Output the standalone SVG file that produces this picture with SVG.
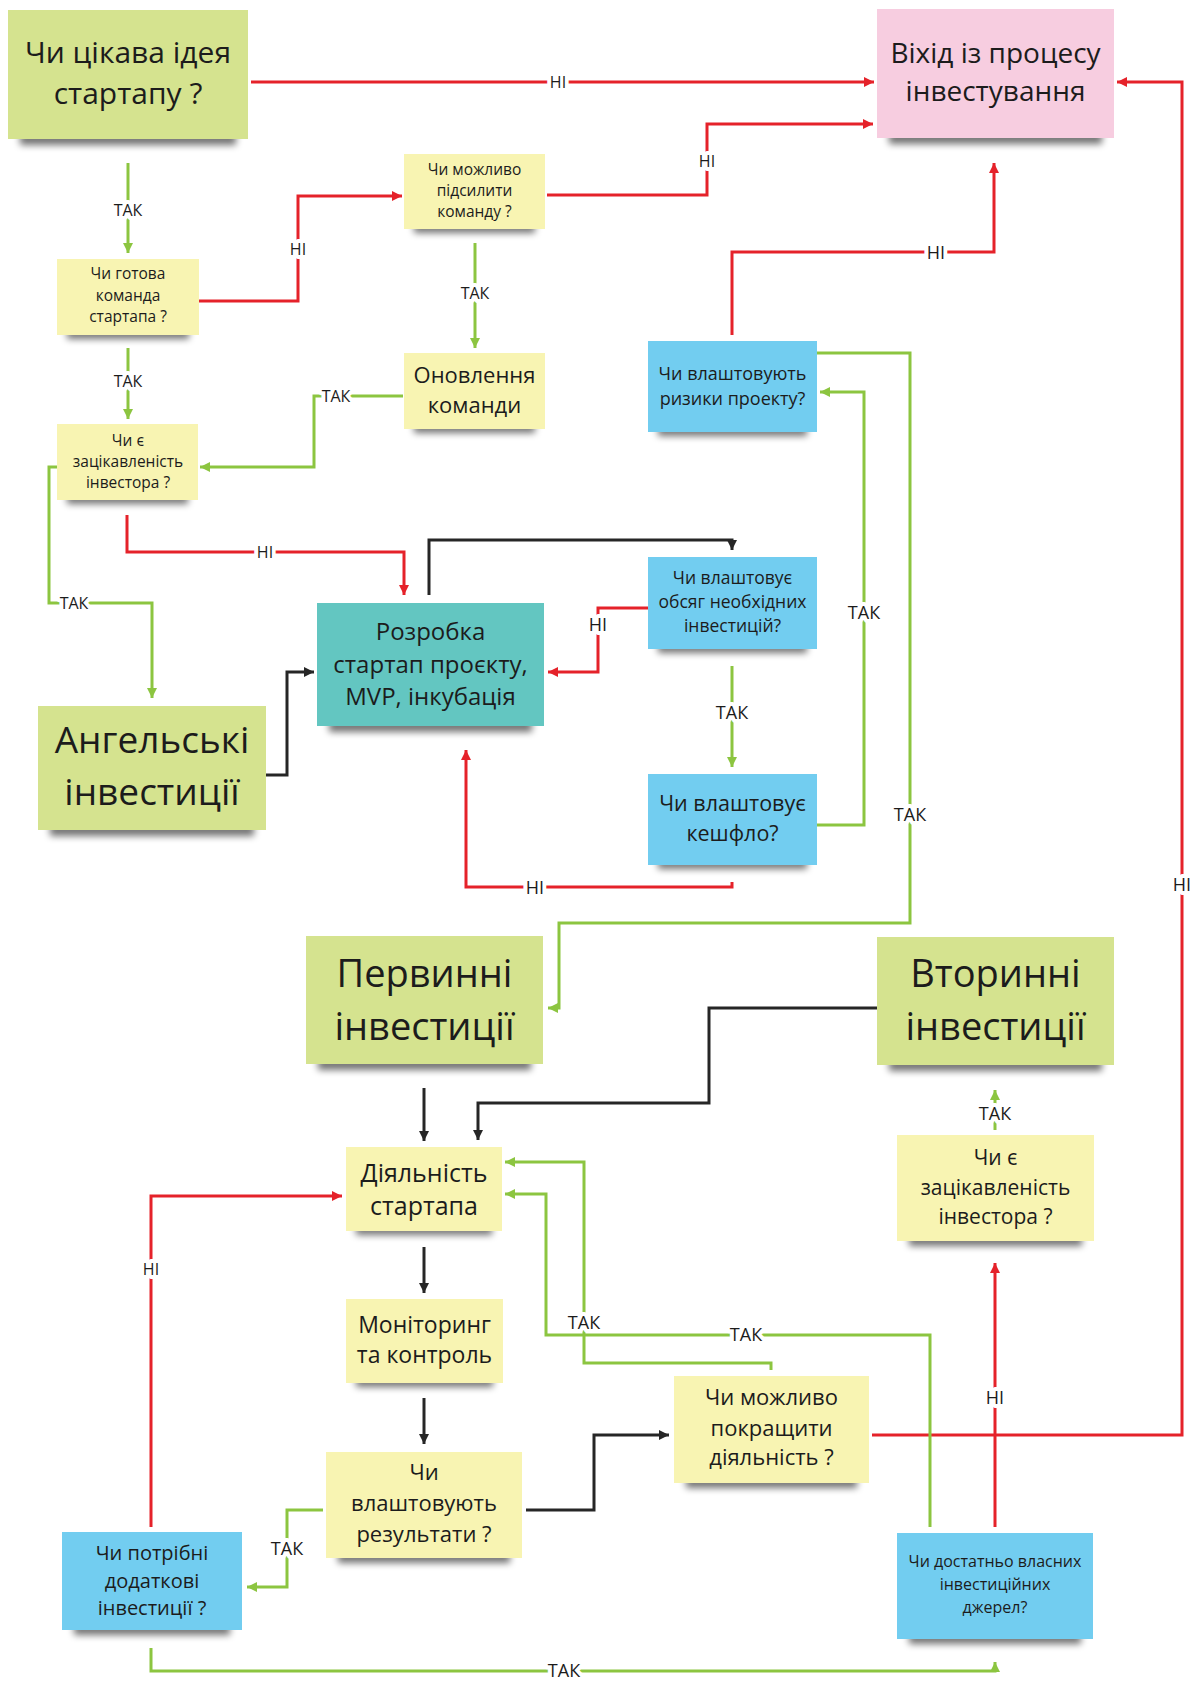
<svg xmlns="http://www.w3.org/2000/svg" width="1192" height="1682" viewBox="0 0 1192 1682">
<style>
text{font-family:"Open Sans","Noto Sans","DejaVu Sans",sans-serif;fill:#1c1c1c;text-anchor:middle}
.g{fill:#d5e38f}.y{fill:#f8f4b2}.p{fill:#f7cde0}.b{fill:#72cdf0}.t{fill:#63c6c1}
.sh{fill:#000;opacity:.55;filter:url(#blur)}
.c{fill:none;stroke-width:3;stroke-linejoin:miter}
.r{stroke:#e5222a;marker-end:url(#ar)}.gr{stroke:#8cc540;marker-end:url(#ag)}.k{stroke:#262626;marker-end:url(#ak)}
.lbl{font-size:16px;stroke:#fff;stroke-width:8px;paint-order:stroke;stroke-linejoin:round}
.l2{font-size:18px}
</style>
<defs>
<filter id="blur" x="-20%" y="-100%" width="140%" height="300%"><feGaussianBlur stdDeviation="3.5"/></filter>
<marker id="ar" markerUnits="userSpaceOnUse" markerWidth="12" markerHeight="12" refX="10" refY="5" orient="auto"><path d="M0,0L10,5L0,10z" fill="#e5222a"/></marker>
<marker id="ag" markerUnits="userSpaceOnUse" markerWidth="12" markerHeight="12" refX="10" refY="5" orient="auto"><path d="M0,0L10,5L0,10z" fill="#8cc540"/></marker>
<marker id="ak" markerUnits="userSpaceOnUse" markerWidth="12" markerHeight="12" refX="10" refY="5" orient="auto"><path d="M0,0L10,5L0,10z" fill="#262626"/></marker>
</defs>
<rect width="1192" height="1682" fill="#fff"/>

<g id="connectors">
<path class="c r" d="M251,82H874"/>
<path class="c r" d="M547,195H707V124H873"/>
<path class="c gr" d="M128,163V253"/>
<path class="c r" d="M199,301H298V196H402"/>
<path class="c gr" d="M128,348V419"/>
<path class="c gr" d="M475,243V348"/>
<path class="c gr" d="M403,396H314V467H200"/>
<path class="c r" d="M127,515V552H404V595"/>
<path class="c gr" d="M57,467H49V603H152V698"/>
<path class="c k" d="M266,775H287V672H314"/>
<path class="c k" d="M429,595V540H732V550"/>
<path class="c r" d="M648,608H598V672H548"/>
<path class="c gr" d="M732,666V767"/>
<path class="c r" d="M732,882V887H466V750"/>
<path class="c gr" d="M817,825H864V392H820"/>
<path class="c gr" d="M817,353H910V923H559V1008H548"/>
<path class="c r" d="M732,335V252H994V163"/>
<path class="c r" d="M872,1435H1182V82H1117"/>
<path class="c r" d="M995,1527V1263"/>
<path class="c gr" d="M995,1130V1090"/>
<path class="c k" d="M877,1008H709V1103H478V1140"/>
<path class="c k" d="M424,1088V1141"/>
<path class="c k" d="M424,1247V1293"/>
<path class="c k" d="M424,1398V1444"/>
<path class="c k" d="M526,1510H594V1435H669"/>
<path class="c gr" d="M323,1510H287V1587H247"/>
<path class="c r" d="M151,1527V1196H342"/>
<path class="c gr" d="M151,1648V1671H995V1662"/>
<path class="c gr" d="M930,1527V1335H546V1194H505"/>
<path class="c gr" d="M771,1370V1363H584V1162H505"/>
<text class="lbl" x="558" y="82" dy="0.35em">НІ</text>
<text class="lbl" x="707" y="161" dy="0.35em">НІ</text>
<text class="lbl" x="128" y="210" dy="0.35em">ТАК</text>
<text class="lbl" x="298" y="249" dy="0.35em">НІ</text>
<text class="lbl" x="128" y="381" dy="0.35em">ТАК</text>
<text class="lbl" x="475" y="293" dy="0.35em">ТАК</text>
<text class="lbl" x="336" y="396" dy="0.35em">ТАК</text>
<text class="lbl" x="265" y="552" dy="0.35em">НІ</text>
<text class="lbl" x="74" y="603" dy="0.35em">ТАК</text>
<text class="lbl l2" x="598" y="625" dy="0.35em">НІ</text>
<text class="lbl l2" x="732" y="713" dy="0.35em">ТАК</text>
<text class="lbl l2" x="535" y="888" dy="0.35em">НІ</text>
<text class="lbl l2" x="864" y="613" dy="0.35em">ТАК</text>
<text class="lbl l2" x="910" y="815" dy="0.35em">ТАК</text>
<text class="lbl l2" x="936" y="253" dy="0.35em">НІ</text>
<text class="lbl l2" x="1182" y="885" dy="0.35em">НІ</text>
<text class="lbl l2" x="995" y="1398" dy="0.35em">НІ</text>
<text class="lbl l2" x="995" y="1114" dy="0.35em">ТАК</text>
<text class="lbl" x="151" y="1269" dy="0.35em">НІ</text>
<text class="lbl l2" x="287" y="1549" dy="0.35em">ТАК</text>
<text class="lbl l2" x="564" y="1671" dy="0.35em">ТАК</text>
<text class="lbl l2" x="746" y="1335" dy="0.35em">ТАК</text>
<text class="lbl l2" x="584" y="1323" dy="0.35em">ТАК</text>
</g>

<g id="n-idea">
<rect class="sh" x="20" y="133" width="216" height="12"/>
<rect class="g" x="8" y="10" width="240" height="129"/>
<text font-size="30" x="128" y="63">Чи цікава ідея</text>
<text font-size="30" x="128" y="104">стартапу ?</text>
</g>
<g id="n-exit">
<rect class="sh" x="889" y="132" width="213" height="12"/>
<rect class="p" x="877" y="9" width="237" height="129"/>
<text font-size="28" x="995.5" y="63">Віхід із процесу</text>
<text font-size="28" x="995.5" y="101">інвестування</text>
</g>
<g id="n-strengthen">
<rect class="sh" x="414" y="223" width="121" height="10"/>
<rect class="y" x="404" y="154" width="141" height="75"/>
<text font-size="15.5" x="474.5" y="175">Чи можливо</text>
<text font-size="15.5" x="474.5" y="196">підсилити</text>
<text font-size="15.5" x="474.5" y="217">команду ?</text>
</g>
<g id="n-team">
<rect class="sh" x="67" y="329" width="122" height="10"/>
<rect class="y" x="57" y="259" width="142" height="76"/>
<text font-size="15.5" x="128" y="279">Чи готова</text>
<text font-size="15.5" x="128" y="301">команда</text>
<text font-size="15.5" x="128" y="322">стартапа ?</text>
</g>
<g id="n-update">
<rect class="sh" x="414" y="423" width="121" height="10"/>
<rect class="y" x="404" y="353" width="141" height="76"/>
<text font-size="22" x="474.5" y="383">Оновлення</text>
<text font-size="22" x="474.5" y="413">команди</text>
</g>
<g id="n-interest1">
<rect class="sh" x="67" y="494" width="121" height="10"/>
<rect class="y" x="57" y="424" width="141" height="76"/>
<text font-size="15.5" x="128" y="446">Чи є</text>
<text font-size="15.5" x="128" y="467">зацікавленість</text>
<text font-size="15.5" x="128" y="488">інвестора ?</text>
</g>
<g id="n-angel">
<rect class="sh" x="50" y="824" width="204" height="12"/>
<rect class="g" x="38" y="706" width="228" height="124"/>
<text font-size="37" x="152" y="753">Ангельські</text>
<text font-size="37" x="152" y="805">інвестиції</text>
</g>
<g id="n-dev">
<rect class="sh" x="329" y="720" width="203" height="12"/>
<rect class="t" x="317" y="603" width="227" height="123"/>
<text font-size="24" x="430.5" y="640">Розробка</text>
<text font-size="24" x="430.5" y="673">стартап проєкту,</text>
<text font-size="24" x="430.5" y="705">MVP, інкубація</text>
</g>
<g id="n-risks">
<rect class="sh" x="658" y="426" width="149" height="10"/>
<rect class="b" x="648" y="341" width="169" height="91"/>
<text font-size="18" x="732.5" y="380">Чи влаштовують</text>
<text font-size="18" x="732.5" y="405">ризики проекту?</text>
</g>
<g id="n-volume">
<rect class="sh" x="658" y="643" width="149" height="10"/>
<rect class="b" x="648" y="557" width="169" height="92"/>
<text font-size="17.5" x="732.5" y="584">Чи влаштовує</text>
<text font-size="17.5" x="732.5" y="608">обсяг необхідних</text>
<text font-size="17.5" x="732.5" y="632">інвестицій?</text>
</g>
<g id="n-cashflow">
<rect class="sh" x="658" y="859" width="149" height="10"/>
<rect class="b" x="648" y="774" width="169" height="91"/>
<text font-size="21.5" x="732.5" y="811">Чи влаштовує</text>
<text font-size="21.5" x="732.5" y="841">кешфло?</text>
</g>
<g id="n-primary">
<rect class="sh" x="318" y="1058" width="213" height="12"/>
<rect class="g" x="306" y="936" width="237" height="128"/>
<text font-size="38" x="424.5" y="987">Первинні</text>
<text font-size="38" x="424.5" y="1040">інвестиції</text>
</g>
<g id="n-secondary">
<rect class="sh" x="889" y="1059" width="213" height="12"/>
<rect class="g" x="877" y="937" width="237" height="128"/>
<text font-size="38" x="995.5" y="987">Вторинні</text>
<text font-size="38" x="995.5" y="1040">інвестиції</text>
</g>
<g id="n-interest2">
<rect class="sh" x="909" y="1235" width="173" height="11"/>
<rect class="y" x="897" y="1135" width="197" height="106"/>
<text font-size="21" x="995.5" y="1165">Чи є</text>
<text font-size="21" x="995.5" y="1195">зацікавленість</text>
<text font-size="21" x="995.5" y="1224">інвестора ?</text>
</g>
<g id="n-activity">
<rect class="sh" x="356" y="1225" width="136" height="10"/>
<rect class="y" x="346" y="1147" width="156" height="84"/>
<text font-size="25" x="424" y="1182">Діяльність</text>
<text font-size="25" x="424" y="1215">стартапа</text>
</g>
<g id="n-monitor">
<rect class="sh" x="356" y="1377" width="137" height="10"/>
<rect class="y" x="346" y="1299" width="157" height="84"/>
<text font-size="23" x="424.5" y="1333">Моніторинг</text>
<text font-size="23" x="424.5" y="1363">та контроль</text>
</g>
<g id="n-results">
<rect class="sh" x="338" y="1552" width="172" height="11"/>
<rect class="y" x="326" y="1452" width="196" height="106"/>
<text font-size="22" x="424" y="1480">Чи</text>
<text font-size="22" x="424" y="1511">влаштовують</text>
<text font-size="22" x="424" y="1542">результати ?</text>
</g>
<g id="n-additional">
<rect class="sh" x="74" y="1624" width="156" height="11"/>
<rect class="b" x="62" y="1532" width="180" height="98"/>
<text font-size="20" x="152" y="1560">Чи потрібні</text>
<text font-size="20" x="152" y="1588">додаткові</text>
<text font-size="20" x="152" y="1615">інвестиції ?</text>
</g>
<g id="n-improve">
<rect class="sh" x="686" y="1477" width="171" height="11"/>
<rect class="y" x="674" y="1376" width="195" height="107"/>
<text font-size="22" x="771.5" y="1405">Чи можливо</text>
<text font-size="22" x="771.5" y="1436">покращити</text>
<text font-size="22" x="771.5" y="1465">діяльність ?</text>
</g>
<g id="n-own">
<rect class="sh" x="909" y="1633" width="172" height="11"/>
<rect class="b" x="897" y="1533" width="196" height="106"/>
<text font-size="16" x="995" y="1567">Чи достатньо власних</text>
<text font-size="16" x="995" y="1590">інвестиційних</text>
<text font-size="16" x="995" y="1613">джерел?</text>
</g>
</svg>
